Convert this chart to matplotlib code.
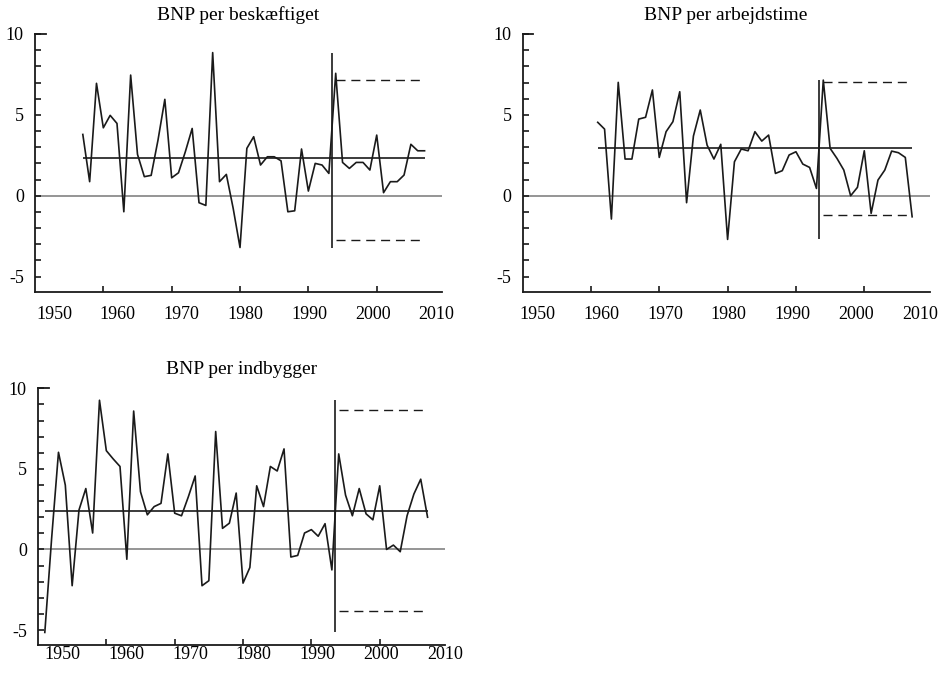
import numpy as np
import matplotlib
matplotlib.use("Agg")
import matplotlib.pyplot as plt

plt.rcParams.update({
    "font.family": "serif",
    "font.serif": ["Liberation Serif", "DejaVu Serif"],
    "font.size": 13,
})

# annual productivity growth, per cent
years_beskaeftiget = np.arange(1957, 2008)
bnp_beskaeftiget = [
    3.79, 0.87, 6.95, 4.20, 4.97, 4.47, -0.99, 7.46, 2.56, 1.18,
    1.26, 3.44, 5.96, 1.11, 1.42, 2.72, 4.16, -0.43, -0.60, 8.85,
    0.87, 1.32, -0.78, -3.20, 2.93, 3.65, 1.90, 2.41, 2.41, 2.16,
    -0.99, -0.93, 2.89, 0.29, 2.00, 1.90, 1.38, 7.57, 2.06, 1.69,
    2.06, 2.06, 1.59, 3.75, 0.19, 0.87, 0.87, 1.28, 3.18, 2.78,
    2.78,
]

years_arbejdstime = np.arange(1961, 2008)
bnp_arbejdstime = [
    4.54, 4.12, -1.44, 7.01, 2.27, 2.27, 4.74, 4.85, 6.54, 2.37,
    3.96, 4.58, 6.43, -0.43, 3.69, 5.30, 3.13, 2.27, 3.18, -2.70,
    2.10, 2.89, 2.78, 3.96, 3.38, 3.75, 1.38, 1.55, 2.52, 2.72,
    1.96, 1.75, 0.45, 7.15, 2.93, 2.31, 1.59, 0.00, 0.52, 2.78,
    -1.09, 0.97, 1.59, 2.76, 2.66, 2.37, -1.30,
]

years_indbygger = np.arange(1951, 2008)
bnp_indbygger = [
    -5.15, 0.70, 6.03, 3.99, -2.25, 2.45, 3.78, 1.02, 9.26, 6.13,
    5.62, 5.15, -0.61, 8.59, 3.58, 2.15, 2.66, 2.86, 5.93, 2.25,
    2.09, 3.27, 4.56, -2.25, -1.94, 7.32, 1.31, 1.63, 3.50, -2.09,
    -1.12, 3.95, 2.66, 5.15, 4.87, 6.24, -0.47, -0.37, 1.02, 1.23,
    0.82, 1.60, -1.27, 5.93, 3.37, 2.09, 3.78, 2.21, 1.84, 3.95,
    0.00, 0.27, -0.14, 2.09, 3.44, 4.36, 2.00,
]

titles = ["BNP per beskæftiget", "BNP per arbejdstime", "BNP per indbygger"]

# average growth before the break and the band for the period after it
mean_levels = [2.31, 2.95, 2.41]
band_upper = [7.15, 7.01, 8.64]
band_lower = [-2.76, -1.20, -3.80]

break_year = 1993.4
band_start, band_end = 1994, 2007

decade_ticks = [1960, 1970, 1980, 1990, 2000]
year_labels = [1950, 1960, 1970, 1980, 1990, 2000, 2010]
y_ticks = [-5, 0, 5, 10]
y_ticklabels = ["-5", "0", "5", "10"]

panels = [
    (years_beskaeftiget, bnp_beskaeftiget),
    (years_arbejdstime, bnp_arbejdstime),
    (years_indbygger, bnp_indbygger),
]

# axes rectangles in figure fractions
positions = [
    [0.0372, 0.5666, 0.4330, 0.3829],
    [0.5559, 0.5666, 0.4330, 0.3829],
    [0.0404, 0.0416, 0.4330, 0.3814],
]
# year labels sit on a slightly compressed scale, shifted right of the ticks
label_shift = [2.8, 2.2, 3.6]
label_stretch = 0.932
label_pad = [10, 10, 0.8]

ink = "#1a1a1a"

fig = plt.figure(figsize=(9.4, 6.73), dpi=100)

for i, (years, values) in enumerate(panels):
    ax = fig.add_axes(positions[i])
    values = np.asarray(values)

    ax.axhline(0, color="#8c8c8c", lw=1.3, zorder=1)
    ax.plot(years, values, color=ink, lw=1.2, zorder=3)
    ax.hlines(mean_levels[i], years[0], years[-1], color=ink, lw=1.2, zorder=2)
    ax.vlines(break_year, values.min(), values.max(), color=ink, lw=1.2, zorder=2)
    ax.hlines([band_upper[i], band_lower[i]], band_start, band_end,
              color=ink, lw=1.0, linestyles=(0, (6.5, 4.2)), zorder=2)

    ax.set_xlim(1950, 2009.55)
    ax.set_ylim(-5.93, 10)

    for side in ["top", "right"]:
        ax.spines[side].set_visible(False)
    for side in ["left", "bottom"]:
        ax.spines[side].set_color(ink)
        ax.spines[side].set_linewidth(1.3)

    # short cap at the top of the y axis
    ax.axhline(10, 0, 0.026, color=ink, lw=1.3, clip_on=False)

    ax.set_xticks(decade_ticks)
    ax.set_xticklabels([])
    label_pos = [1950 + label_shift[i] + label_stretch * (y - 1950) for y in year_labels]
    ax.set_xticks(label_pos, minor=True)
    ax.set_xticklabels([str(y) for y in year_labels], minor=True)
    ax.tick_params(axis="x", which="major", direction="in", length=4, width=1.2, color=ink)
    ax.tick_params(axis="x", which="minor", length=0, pad=label_pad[i], labelsize=13)

    ax.set_yticks(y_ticks)
    ax.set_yticklabels(y_ticklabels)
    ax.set_yticks(np.arange(-5, 10), minor=True)
    ax.tick_params(axis="y", which="both", direction="in", length=4, width=1.2,
                   color=ink, pad=8, labelsize=13)

    ax.set_title(titles[i], fontsize=14, pad=10)

fig.savefig("out.png", dpi=100)
